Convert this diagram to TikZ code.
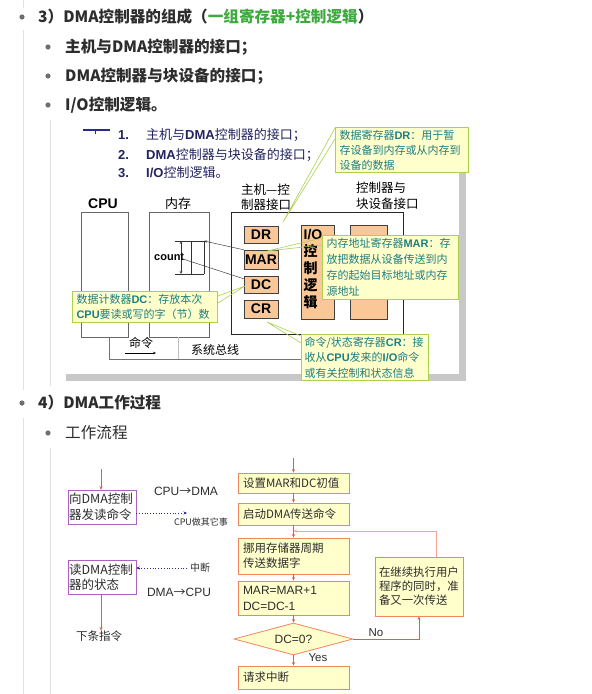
\documentclass[tikz,border=0pt]{standalone}
\usepackage{fontspec}
\setmainfont{Noto Sans CJK SC}
\newfontfamily\arial{Liberation Sans}
\usetikzlibrary{arrows.meta,shapes.geometric}
\definecolor{tgray}{RGB}{45,45,45}
\definecolor{hgreen}{RGB}{60,170,60}
\definecolor{guide}{RGB}{225,225,225}
\definecolor{bgray}{RGB}{110,110,110}
\definecolor{navy}{RGB}{35,35,95}
\definecolor{peach}{RGB}{250,200,152}
\definecolor{cgreen}{RGB}{170,210,80}
\definecolor{cyellow}{RGB}{255,255,204}
\definecolor{cteal}{RGB}{30,125,130}
\definecolor{shadowc}{RGB}{200,200,200}
\definecolor{fred}{RGB}{232,90,60}
\definecolor{fborder}{RGB}{240,135,95}
\definecolor{fyellow}{RGB}{255,255,204}
\definecolor{fpurple}{RGB}{170,100,190}
\definecolor{fblue}{RGB}{40,40,150}
\definecolor{floop}{RGB}{245,165,145}
\begin{document}
\begin{tikzpicture}[x=1pt,y=-1pt,
  txt/.style={anchor=west,inner sep=0,text=tgray},
  hbold/.style={txt,font=\fontsize{15.6}{18}\selectfont\bfseries},
  hreg/.style={txt,font=\fontsize{15.6}{18}\selectfont},
  navtxt/.style={anchor=west,inner sep=0,text=navy,font=\fontsize{13}{15}\selectfont},
  reg/.style={draw=black!75,fill=peach,font=\arial\bfseries\fontsize{14}{16}\selectfont,minimum width=34,inner sep=0},
  callout/.style={anchor=north west,draw=cgreen,line width=1pt,fill=cyellow,text=cteal,align=left,inner xsep=4pt,inner ysep=0pt},
  ptr/.style={cgreen,line width=0.6pt},
  sm/.style={font=\fontsize{12}{15}\selectfont,inner sep=0,text=black},
  pbox/.style={draw=fpurple,fill=white,minimum width=68,minimum height=34,text width=66,align=left,inner xsep=1pt,inner ysep=0,font=\fontsize{12.5}{15.5}\selectfont,text=tgray},
  fbox/.style={draw=fborder,fill=fyellow,line width=0.8pt,minimum width=111,text width=101,align=left,inner xsep=5pt,inner ysep=0,font=\fontsize{11.5}{15}\selectfont,text=tgray},
  fdia/.style={diamond,draw=fborder,fill=fyellow,line width=0.8pt,minimum width=119,minimum height=32,aspect=3.7,inner sep=0,font=\arial\fontsize{12}{14}\selectfont,text=tgray},
  farr/.style={fred,line width=0.6pt,-{Stealth[length=3.5pt,width=3pt]}},
  darr/.style={fblue,line width=0.8pt,dotted,-{Stealth[length=3.5pt,width=3pt]}},
  lbl/.style={inner sep=0,text=tgray}]
\useasboundingbox (0,0) rectangle (592,694);
\fill[white] (0,0) rectangle (592,694);

% guide lines
\draw[guide,line width=1pt] (23,0)--(23,8) (23,30)--(23,390) (50,120)--(50,386) (23,418)--(23,694) (50,448)--(50,694);

% top outline text
\foreach \p in {(22,17),(48,47),(48,76),(48,105),(22,403),(48,433)} \fill[bgray] \p circle (2.6);
\node[hbold] (t3) at (38,17) {3）DMA控制器的组成（\textcolor{hgreen}{一组寄存器+控制逻辑}）};
\node[hbold] (t31) at (65,47) {主机与DMA控制器的接口；};
\node[hbold] (t32) at (65,76) {DMA控制器与块设备的接口；};
\node[hbold] (t33) at (65,105) {I/O控制逻辑。};

% slide shadow
\fill[shadowc] (459,128) rectangle (466,381);
\fill[shadowc] (66,374) rectangle (466,381);

% slide list
\draw[fblue,line width=1.2pt] (83,130)--(110,130);
\draw[fblue,line width=0.8pt] (95,130)--(95,134);
\node[navtxt,font=\arial\bfseries\fontsize{13}{15}\selectfont] (n1) at (118,135) {1.};
\node[navtxt] (l1) at (146,135) {主机与{\arial\bfseries DMA}控制器的接口；};
\node[navtxt,font=\arial\bfseries\fontsize{13}{15}\selectfont] (n2) at (118,155) {2.};
\node[navtxt] (l2) at (146,155) {{\arial\bfseries DMA}控制器与块设备的接口；};
\node[navtxt,font=\arial\bfseries\fontsize{13}{15}\selectfont] (n3) at (118,173) {3.};
\node[navtxt] (l3) at (146,173) {{\arial\bfseries I/O}控制逻辑。};

% labels
\node[sm,font=\arial\bfseries\fontsize{14}{16}\selectfont] (cpulab) at (103,204) {CPU};
\node[sm,font=\fontsize{13}{15}\selectfont] (memlab) at (178,204) {内存};
\node[sm,anchor=west,align=left,font=\fontsize{12.5}{15}\selectfont] (hilab) at (241,197) {主机—控\\制器接口};
\node[sm,anchor=west,align=left,font=\fontsize{12.5}{16.5}\selectfont] (dvlab) at (356,196) {控制器与\\块设备接口};

% boxes
\node[draw=black!60,minimum width=47,minimum height=125,inner sep=0] (cpu) at (104.5,274.5) {};
\node[draw=black!60,minimum width=60,minimum height=125,inner sep=0] (mem) at (179,274.5) {};
\node[draw=black!85,minimum width=172,minimum height=122,inner sep=0] (ctrl) at (317,273) {};

\node[reg,minimum height=17] (dr) at (261,234.5) {DR};
\node[reg,minimum height=19] (mar) at (261,259.5) {MAR};
\node[reg,minimum height=17] (dc) at (261,284.5) {DC};
\node[reg,minimum height=18] (cr) at (261,309) {CR};
\node[draw=black!75,fill=peach,minimum width=33,minimum height=94,inner sep=0] (io) at (317.5,272) {};
\node[anchor=north west,inner sep=0,align=left,font=\bfseries\fontsize{14}{17}\selectfont] (iotxt) at (303.5,229) {{\arial I/O}\\控\\制\\逻\\辑};
\node[draw=black!75,fill=peach,minimum width=37,minimum height=94,inner sep=0] (dev) at (368.5,272) {};

% count structure in memory
\draw[black!80,line width=0.5pt] (175,241)--(204,241) (175,274)--(204,274) (191,241)--(191,274) (204,241)--(204,274);
\draw[black!80,line width=0.5pt,{Stealth[length=3pt,width=2.5pt]}-{Stealth[length=3pt,width=2.5pt]}] (181,241)--(181,274);
\node[sm,font=\arial\bfseries\fontsize{11}{13}\selectfont,anchor=west] (count) at (154,257) {count};
\coordinate (memtop) at (204,241);
\coordinate (cnt) at (183,259);
\draw[black!75,line width=0.5pt,-{Stealth[length=3pt,width=2.5pt]}] (mar.north west) -- (memtop);
\draw[black!75,line width=0.5pt] (cnt) -- ([yshift=-3pt]dc.north west);

% bus
\draw[black!55,line width=0.6pt] (109,337)--(109,359)--(302,359);
\draw[black!25,line width=0.6pt] (178,337)--(178,359);
\node[sm,font=\fontsize{12}{14}\selectfont] (cmd) at (141,343) {命令};
\coordinate (cmda) at (125,353);
\coordinate (cmdb) at (156,353);
\draw[black,line width=0.5pt,-{Stealth[length=3pt,width=2.5pt]}] (cmda) -- (cmdb);
\node[sm,font=\fontsize{12}{14}\selectfont] (bus) at (215,350) {系统总线};

% callouts
\node[callout,minimum width=133,minimum height=45,text width=125,font=\fontsize{11}{15}\selectfont] (drc) at (335,127) {数据寄存器{\arial\bfseries DR}：用于暂\\存设备到内存或从内存到\\设备的数据};
\node[callout,minimum width=136,minimum height=64,text width=128,font=\fontsize{11}{16}\selectfont] (marc) at (322,235) {内存地址寄存器{\arial\bfseries MAR}：存\\放把数据从设备传送到内\\存的起始目标地址或内存\\源地址};
\node[callout,minimum width=145,minimum height=31,text width=137,font=\fontsize{11}{14.5}\selectfont] (dcc) at (72,291) {数据计数器{\arial\bfseries DC}：存放本次\\{\arial\bfseries CPU}要读或写的字（节）数};
\node[callout,minimum width=127,minimum height=46,text width=121,inner xsep=3pt,font=\fontsize{11}{15.5}\selectfont] (crc) at (301,334) {命令/状态寄存器{\arial\bfseries CR}：接\\收从{\arial\bfseries CPU}发来的{\arial\bfseries I/O}命令\\或有关控制和状态信息};

\coordinate (drtip) at (283,222);
\coordinate (martip) at (267,251);
\coordinate (dctip) at (245,286);
\coordinate (crtip) at (267,322);
\draw[ptr] (drtip) -- ([yshift=-1pt]drc.north west) (drtip) -- ([yshift=-12pt]drc.north west);
\draw[ptr] (martip) -- ([yshift=-3pt]marc.north west) (martip) -- ([yshift=-10pt]marc.north west);
\draw[ptr] (dctip) -- ([yshift=-5pt]dcc.north east) (dctip) -- ([yshift=-12pt]dcc.north east);
\draw[ptr] (crtip) -- ([yshift=-2pt]crc.north west) (crtip) -- ([yshift=-9pt]crc.north west);

% section 4
\node[hbold] (t4) at (38,403) {4）DMA工作过程};
\node[hreg] (t41) at (65,433) {工作流程};

% left flow
\coordinate (sendin) at (101,469);
\node[pbox] (send) at (102,507) {向DMA控制\\器发读命令};
\draw[farr] (sendin) -- (sendin |- send.north);
\node[lbl,font=\fontsize{12}{14}\selectfont] (cpudma) at (186,491) {{\arial CPU}→{\arial DMA}};
\coordinate (cpuother) at (187,513);
\draw[darr] ([yshift=-6pt]send.east) -- (cpuother);
\node[lbl,font=\fontsize{9}{11}\selectfont] (cpuo) at (201,522) {CPU做其它事};
\node[pbox] (read) at (102,577) {读DMA控制\\器的状态};
\coordinate (intsrc) at (187,568);
\draw[darr] (intsrc) -- ([yshift=9pt]read.east);
\node[lbl,font=\fontsize{10}{12}\selectfont] (intl) at (200,568) {中断};
\node[lbl,font=\fontsize{12}{14}\selectfont] (dmacpu) at (179,592) {{\arial DMA}→{\arial CPU}};
\node[lbl,font=\fontsize{11.5}{14}\selectfont] (next) at (99,636) {下条指令};
\draw[farr] ([xshift=-1pt]read.south) -- ([xshift=-1pt]read.south |- next.north);

% right flow
\coordinate (top) at (293.5,458);
\node[fbox,minimum height=20] (b1) at (293.5,483) {设置MAR和DC初值};
\node[fbox,minimum height=22] (b2) at (293.5,514) {启动DMA传送命令};
\node[fbox,minimum height=36] (b3) at (293.5,556) {挪用存储器周期\\传送数据字};
\node[fbox,minimum height=34,font=\arial\fontsize{12}{16}\selectfont] (b4) at (293.5,598) {MAR=MAR+1\\DC=DC-1};
\node[fdia] (d) at (293.5,639) {DC=0?};
\node[fbox,minimum height=23] (b5) at (293.5,677.5) {请求中断};
\node[fbox,minimum width=88,text width=80,minimum height=59,inner xsep=4pt,font=\fontsize{11.4}{14}\selectfont] (loop) at (419,586.5) {在继续执行用户\\程序的同时，准\\备又一次传送};
\coordinate (j) at (293.5,531);
\draw[farr] (top) -- (b1);
\draw[farr] (b1) -- (b2);
\draw[farr] (b2) -- (b3);
\draw[farr] (b3) -- (b4);
\draw[farr] (b4) -- (d);
\draw[farr] (d) -- (b5);
\draw[farr] (d.east) -| (loop.south);
\draw[floop,line width=0.7pt,-{Stealth[length=3.5pt,width=3pt]}] ([xshift=17pt]loop.north) |- (j);
\node[lbl,font=\arial\fontsize{11.5}{13}\selectfont] (yes) at (318,658) {Yes};
\node[lbl,font=\arial\fontsize{11.5}{13}\selectfont] (no) at (376,633) {No};
\end{tikzpicture}
\end{document}
